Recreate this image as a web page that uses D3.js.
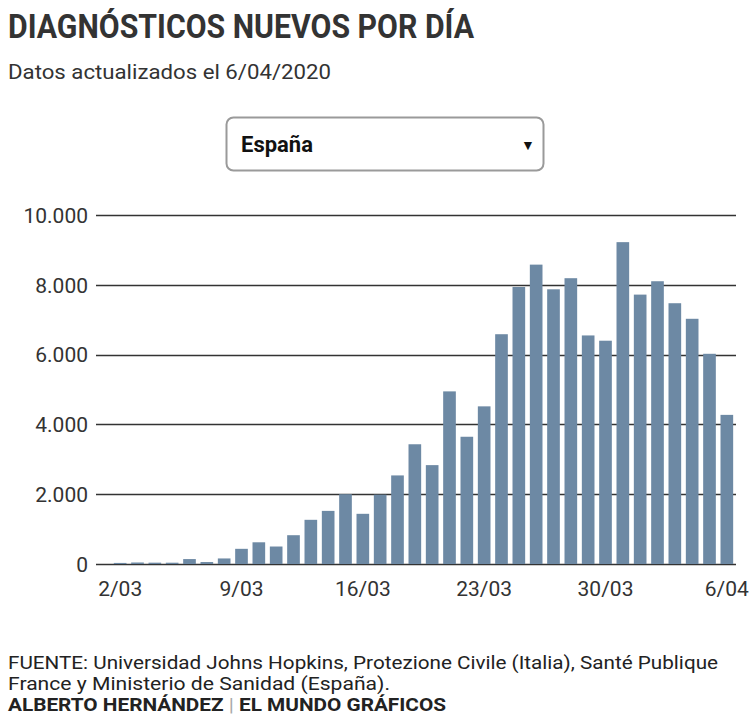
<!DOCTYPE html>
<html>
<head>
<meta charset="utf-8">
<script src="https://cdn.jsdelivr.net/npm/d3@7"></script>
<style>
  body { margin: 0; background: #fff; }
  svg text { font-family: Roboto, "Noto Sans", sans-serif; }
</style>
</head>
<body>
<div id="chart"></div>
<script>
// casos nuevos diarios, España, 2/03 - 6/04
var dates = [
  "2/03","3/03","4/03","5/03","6/03","7/03","8/03","9/03","10/03","11/03","12/03","13/03",
  "14/03","15/03","16/03","17/03","18/03","19/03","20/03","21/03","22/03","23/03","24/03","25/03",
  "26/03","27/03","28/03","29/03","30/03","31/03","1/04","2/04","3/04","4/04","5/04","6/04"
];
var newCases = [
  31, 43, 38, 37, 141, 56, 159, 435, 622, 501, 825, 1266,
  1522, 2000, 1438, 1987, 2538, 3431, 2833, 4946, 3646, 4517, 6584, 7937,
  8578, 7871, 8189, 6549, 6398, 9222, 7719, 8102, 7472, 7026, 6023, 4273
];
var yTicks = [0, 2000, 4000, 6000, 8000, 10000];
var xTickLabels = ["2/03", "9/03", "16/03", "23/03", "30/03", "6/04"];

var width = 753, height = 721;
var fmt = d3.formatLocale({decimal: ",", thousands: ".", grouping: [3]}).format(",d");

var svg = d3.select("#chart").append("svg")
  .attr("width", width)
  .attr("height", height);

// titulo
svg.append("text")
  .attr("x", 8).attr("y", 38)
  .style("font-size", "34px").style("font-weight", 700)
  .style("fill", "#333")
  .attr("textLength", 466).attr("lengthAdjust", "spacingAndGlyphs")
  .text("DIAGNÓSTICOS NUEVOS POR DÍA");

svg.append("text")
  .attr("x", 8).attr("y", 79)
  .style("font-size", "21px")
  .style("fill", "#333")
  .attr("textLength", 323).attr("lengthAdjust", "spacingAndGlyphs")
  .text("Datos actualizados el 6/04/2020");

// selector (dibujado)
var sel = svg.append("g").attr("transform", "translate(226,117)");
sel.append("rect")
  .attr("x", 0.5).attr("y", 0.5)
  .attr("width", 317).attr("height", 53)
  .attr("rx", 7)
  .style("fill", "#fff").style("stroke", "#9a9a9a").style("stroke-width", 2);
sel.append("text")
  .attr("x", 15).attr("y", 35)
  .style("font-size", "22px").style("font-weight", 700).style("fill", "#111")
  .text("España");
sel.append("text")
  .attr("x", 302).attr("y", 33)
  .style("font-size", "14px").style("fill", "#111")
  .style("text-anchor", "middle")
  .text("▼");

// escalas
var x = d3.scaleBand()
  .domain(dates)
  .range([111.5, 735.5])
  .paddingInner(0.27)
  .paddingOuter(0.135);

var y = d3.scaleLinear()
  .domain([0, 10000])
  .range([564, 215]);

var gridLeft = 96, gridRight = 736;

// rejilla
svg.append("g")
  .selectAll("line")
  .data(yTicks)
  .enter()
  .append("line")
    .attr("x1", gridLeft).attr("x2", gridRight)
    .attr("y1", function(d) { return Math.round(y(d)) + 0.5; })
    .attr("y2", function(d) { return Math.round(y(d)) + 0.5; })
    .style("stroke", "#333")
    .style("stroke-width", 1.3);

// eje y
var yAxis = svg.append("g")
  .attr("transform", "translate(" + gridLeft + ",0)")
  .call(d3.axisLeft(y).tickValues(yTicks).tickFormat(fmt).tickSize(0).tickPadding(8));
yAxis.select(".domain").remove();
yAxis.selectAll("text")
  .style("font-size", "21px")
  .style("fill", "#333")
  .attr("dy", "0.35em");

// barras
svg.append("g")
  .selectAll(".bar")
  .data(newCases)
  .enter()
  .append("rect")
    .attr("class", "bar")
    .attr("x", function(d, i) { return x(dates[i]); })
    .attr("width", x.bandwidth())
    .attr("y", function(d) { return y(d); })
    .attr("height", function(d) { return 564 - y(d); })
    .style("fill", "#6d89a4");

// eje x
var xAxis = svg.append("g")
  .attr("transform", "translate(0,564)")
  .call(d3.axisBottom(x).tickValues(xTickLabels).tickSize(0).tickPadding(17));
xAxis.select(".domain").remove();
xAxis.selectAll("text")
  .style("font-size", "21px")
  .style("fill", "#333");

// fuente
svg.append("text")
  .attr("x", 8).attr("y", 669)
  .style("font-size", "18px").style("fill", "#222")
  .attr("textLength", 710).attr("lengthAdjust", "spacingAndGlyphs")
  .text("FUENTE: Universidad Johns Hopkins, Protezione Civile (Italia), Santé Publique");
svg.append("text")
  .attr("x", 8).attr("y", 690)
  .style("font-size", "18px").style("fill", "#222")
  .attr("textLength", 382).attr("lengthAdjust", "spacingAndGlyphs")
  .text("France y Ministerio de Sanidad (España).");

var credit = svg.append("text")
  .attr("x", 8).attr("y", 711)
  .style("font-size", "18px").style("font-weight", 700).style("fill", "#222")
  .attr("textLength", 438).attr("lengthAdjust", "spacingAndGlyphs");
credit.append("tspan").text("ALBERTO HERNÁNDEZ ");
credit.append("tspan").style("fill", "#aaa").style("font-weight", 400).text("|");
credit.append("tspan").text(" EL MUNDO GRÁFICOS");
</script>
</body>
</html>
